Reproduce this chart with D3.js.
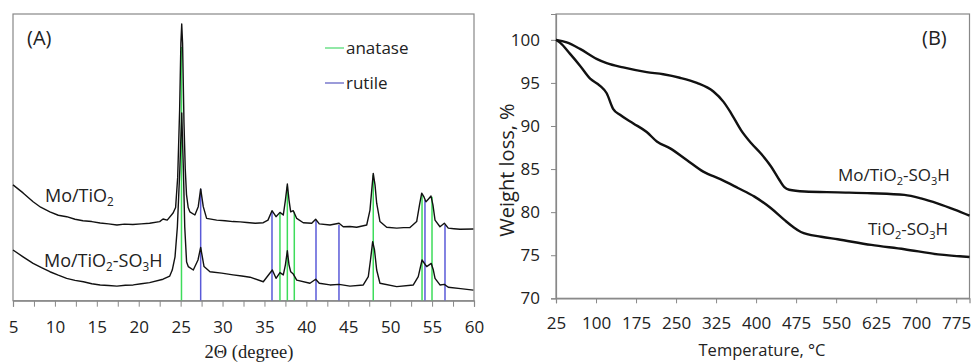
<!DOCTYPE html>
<html>
<head>
<meta charset="utf-8">
<script src="https://cdn.jsdelivr.net/npm/d3@7"></script>
<style>
  body { margin: 0; background: #fff; }
  svg text { font-family: "Open Sans", sans-serif; fill: #222; }
  .axis path, .axis line { stroke: #888; }
  .axis text { font-size: 17px; fill: #222; }
</style>
</head>
<body>
<script>
// ---- panel A: XRD (2theta, intensity a.u.) ----
var moTiO2 = [[5.0,40.4],[6.2,37.6],[7.4,34.5],[8.3,32.6],[9.4,31.0],[10.4,29.8],[11.4,29.3],[12.4,28.4],[13.35,27.9],
  [14.4,27.6],[15.4,27.1],[16.4,26.8],[17.4,26.4],[18.3,26.7],[19.3,26.6],[20.3,26.8],[21.3,27.0],[22.5,27.6],[22.9,28.5],
  [23.4,28.1],[24.1,30.6],[24.4,32.5],[24.65,43.1],[24.88,66.5],[25.03,89.9],[25.13,96.5],[25.23,89.9],
  [25.4,62],[25.55,46],[25.7,37],[25.9,32.5],[26.1,31.0],[26.7,29.9],[27.1,32.8],[27.39,39.0],[27.7,32.8],[28.1,28.7],
  [29.3,28.1],[30.3,27.9],[31.25,27.6],[32.1,27.5],[32.9,27.3],[33.9,27.0],[34.86,27.2],[35.42,28.1],[35.9,31.4],[36.38,29.3],[36.85,30.8],[37.25,29.9],
  [37.5,35.1],[37.73,40.7],[37.93,35.1],[38.13,31.0],[38.44,31.4],[38.85,28.7],[39.63,27.2],[40.64,27.0],[41.11,28.4],
  [41.54,26.8],[42.82,26.4],[43.9,27.0],[44.4,25.8],[45.2,25.9],[46.0,25.6],[47.2,26.4],[47.59,31.6],[47.8,38.6],[47.98,44.4],
  [48.19,40.4],[48.39,34.0],[48.78,27.6],[49.58,25.6],[50.78,25.3],[51.6,25.5],[52.36,25.5],[53.16,27.6],[53.5,33.4],[53.76,37.5],
  [54.03,36.2],[54.27,34.5],[54.57,35.5],[54.87,36.5],[55.1,33.4],[55.35,28.1],[55.94,25.8],[56.46,27.0],[56.93,25.3],
  [57.6,25.1],[58.33,24.9],[59.92,25.0]];

var moTiO2SO3H = [[5.0,17.7],[6.2,15.3],[7.4,13.0],[8.4,11.5],[9.4,10.1],[10.4,8.9],[11.4,7.8],[12.4,7.1],[13.4,6.6],
  [14.4,5.9],[15.4,5.5],[16.4,5.3],[17.4,5.1],[18.4,5.4],[19.35,5.5],[20.3,5.9],[21.3,6.3],
  [22.9,7.5],[23.7,8.6],[24.0,10.7],[24.33,15.3],[24.61,25.7],[24.9,45.6],[25.13,65.5],[25.33,45.6],[25.49,25.7],
  [25.71,13.5],[25.91,11.9],
  [26.51,10.7],[27.07,14.2],[27.39,18.6],[27.79,11.9],[28.5,10.1],[29.9,9.6],[31.25,9.0],[32.3,8.6],[33.28,8.2],[34.86,6.6],[35.94,10.7],
  [36.38,7.8],[36.85,9.8],[37.25,9.0],[37.5,12.5],[37.73,17.4],[37.93,12.5],[38.13,10.1],[38.44,9.3],[38.85,7.2],
  [40.43,6.1],[41.11,7.5],[41.54,6.1],[42.82,5.5],[43.9,5.7],[45.2,5.1],[46.79,5.5],[47.39,8.4],[47.65,14.2],
  [47.91,20.6],[48.13,17.7],[48.39,10.7],[48.78,6.1],[50.78,4.9],[52.76,5.5],[53.35,8.4],[53.8,14.2],[54.35,11.9],
  [54.9,13.0],[55.15,10.7],[55.35,7.8],[55.94,5.5],[56.46,5.7],[56.93,4.7],[58.4,4.2],[59.92,3.7]];

// reference sticks: position and top
var anataseSticks = [[25.1,88.5],[36.85,30.6],[37.73,39.8],[38.56,31.0],[47.98,43.8],[53.8,36.9],[54.99,36.3]];
var rutileSticks = [[27.39,39.0],[35.9,31.0],[41.15,28.1],[43.89,26.4],[54.15,35.1],[56.54,26.4]];

var xrdTicks = [5,7.5,10,12.5,15,17.5,20,22.5,25,27.5,30,32.5,35,37.5,40,42.5,45,47.5,50,52.5,55,57.5,60];

// ---- panel B: TGA (temperature C, weight %) ----
var tgaMo = [[25,100],[45,99.7],[70,98.95],[101,97.8],[120,97.3],[151,96.8],[195,96.25],[226,96.0],[257,95.6],
  [289,95.0],[320,94.0],[339,92.8],[353,91.5],[372,89.5],[391,88.0],[409,86.8],[428,85.3],[444,83.7],[453,82.9],
  [462,82.6],[491,82.4],[553,82.3],[616,82.2],[678,82.0],[709,81.6],[741,81.0],[772,80.3],[800,79.6]];
var tgaTi = [[25,100],[32,99.7],[51,98.4],[70,97.0],[89,95.5],[107,94.7],[120,93.8],[132,92.0],[145,91.3],[170,90.3],
  [195,89.3],[214,88.2],[239,87.4],[270,86.05],[301,84.7],[334,83.8],[366,82.8],[397,81.8],[428,80.45],[453,79.1],
  [469,78.3],[484,77.7],[522,77.15],[553,76.85],[616,76.2],[678,75.7],[741,75.1],[800,74.8]];

var tgaXTicks = [25,100,175,250,325,400,475,550,625,700,775];
var tgaYTicks = [70,75,80,85,90,95,100];

var W = 971, H = 362;
var svg = d3.select("body").append("svg").attr("width", W).attr("height", H);

// ===== panel A =====
var xA = d3.scaleLinear().domain([5, 60]).range([13, 474]);
var yA = d3.scaleLinear().domain([0, 100]).range([300.7, 14]);

svg.append("rect").attr("x", 13).attr("y", 14).attr("width", 461).attr("height", 286.7)
  .attr("fill", "none").attr("stroke", "#888").attr("stroke-width", 1.2);

svg.selectAll(".ana").data(anataseSticks).enter().append("line")
  .attr("x1", d => xA(d[0])).attr("x2", d => xA(d[0]))
  .attr("y1", yA(0)).attr("y2", d => yA(d[1]))
  .attr("stroke", "#3ddc5a").attr("stroke-width", 1.5);
svg.selectAll(".rut").data(rutileSticks).enter().append("line")
  .attr("x1", d => xA(d[0])).attr("x2", d => xA(d[0]))
  .attr("y1", yA(0)).attr("y2", d => yA(d[1]))
  .attr("stroke", "#5a5ad8").attr("stroke-width", 1.5);

var lineA = d3.line().x(d => xA(d[0])).y(d => yA(d[1]));
[moTiO2, moTiO2SO3H].forEach(function(s){
  svg.append("path").datum(s).attr("d", lineA)
    .attr("fill", "none").attr("stroke", "#111").attr("stroke-width", 1.4)
    .attr("stroke-linejoin", "round");
});

svg.append("g").attr("class", "axis").attr("transform", "translate(0,300.7)")
  .call(d3.axisBottom(xA).tickValues(xrdTicks).tickSize(6).tickPadding(14)
    .tickFormat(d => d % 5 === 0 ? d : ""))
  .call(g => g.select(".domain").attr("stroke-width", 1.2));

svg.append("text").attr("x", 249).attr("y", 358).attr("text-anchor", "middle")
  .style("font-family", "'Liberation Serif', serif").style("font-size", "18.5px")
  .text("2\u0398 (degree)");

svg.append("text").attr("x", 27).attr("y", 45).style("font-size", "20px").text("(A)");

// legend
var legend = [["anatase", "#6ee08a", 48], ["rutile", "#7a7acc", 83]];
legend.forEach(function(l){
  svg.append("line").attr("x1", 325).attr("x2", 344).attr("y1", l[2]).attr("y2", l[2])
    .attr("stroke", l[1]).attr("stroke-width", 1.5);
  svg.append("text").attr("x", 346).attr("y", l[2] + 6).style("font-size", "17px").text(l[0]);
});

// text with subscripts, parts: plain strings or [sub]
function label(x, y, size, parts){
  var t = svg.append("text").attr("x", x).attr("y", y).style("font-size", size + "px");
  var down = false;
  parts.forEach(function(p){
    if (Array.isArray(p)) {
      t.append("tspan").attr("dy", size * 0.22).style("font-size", (size * 0.65) + "px").text(p[0]);
      down = true;
    } else {
      var ts = t.append("tspan").text(p);
      if (down) { ts.attr("dy", -size * 0.22); down = false; }
    }
  });
}
label(45, 202, 18, ["Mo/TiO", ["2"]]);
label(44, 267, 18, ["Mo/TiO", ["2"], "-SO", ["3"], "H"]);

// ===== panel B =====
var xB = d3.scaleLinear().domain([25, 800]).range([556, 969.5]);
var yB = d3.scaleLinear().domain([70, 103]).range([298.3, 14]);

svg.append("rect").attr("x", 556).attr("y", 14).attr("width", 413.5).attr("height", 284.3)
  .attr("fill", "none").attr("stroke", "#888").attr("stroke-width", 1.2);

svg.append("g").attr("class", "axis").attr("transform", "translate(0,298.3)")
  .call(d3.axisBottom(xB).tickValues(tgaXTicks).tickSize(5).tickPadding(14))
  .call(g => g.select(".domain").attr("stroke-width", 1.2));
svg.append("g").attr("class", "axis").attr("transform", "translate(556,0)")
  .call(d3.axisLeft(yB).tickValues(tgaYTicks).tickSize(5).tickPadding(11))
  .call(g => g.select(".domain").attr("stroke-width", 1.2));

var lineB = d3.line().x(d => xB(d[0])).y(d => yB(d[1])).curve(d3.curveMonotoneX);
[tgaMo, tgaTi].forEach(function(s){
  svg.append("path").datum(s).attr("d", lineB)
    .attr("fill", "none").attr("stroke", "#111").attr("stroke-width", 2.4);
});

svg.append("text").attr("x", 762).attr("y", 356).attr("text-anchor", "middle")
  .style("font-size", "16.5px").text("Temperature, \u00B0C");
svg.append("text").attr("transform", "translate(514,170) rotate(-90)").attr("text-anchor", "middle")
  .style("font-size", "20px").text("Weight loss, %");
svg.append("text").attr("x", 922).attr("y", 45).style("font-size", "20px").text("(B)");

label(838, 181, 17, ["Mo/TiO", ["2"], "-SO", ["3"], "H"]);
label(868, 235, 17, ["TiO", ["2"], "-SO", ["3"], "H"]);
</script>
</body>
</html>
